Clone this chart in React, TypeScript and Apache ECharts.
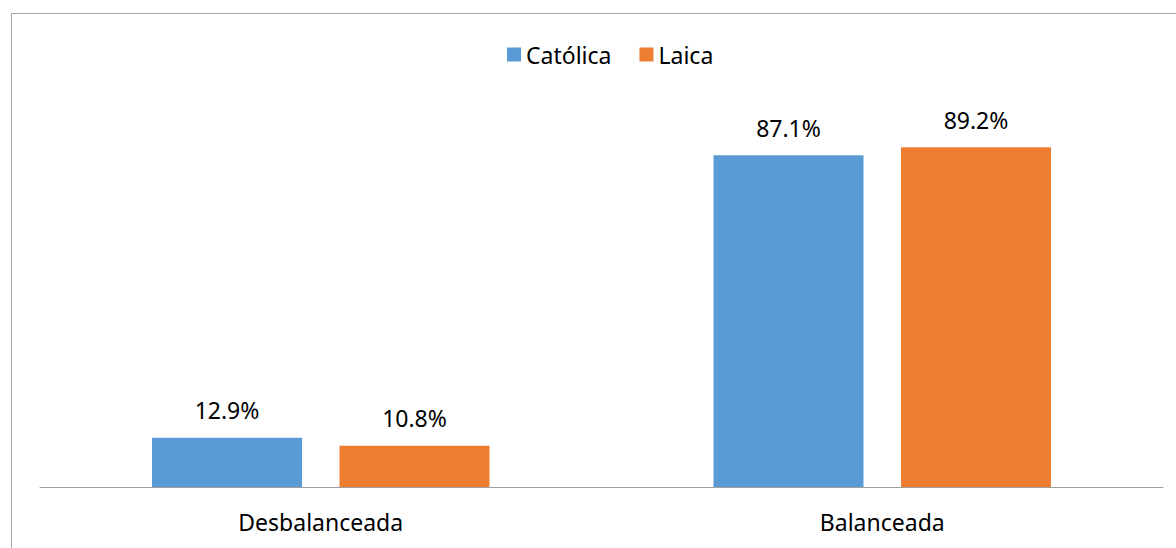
import React, { useEffect, useRef } from "react";
import * as echarts from "echarts";

const categories = ["Desbalanceada", "Balanceada"];
const catolica = [12.9, 87.1];
const laica = [10.8, 89.2];
const seriesNames = ["Católica", "Laica"];

const FONT = "'Noto Sans', 'Open Sans', sans-serif";
const FS = 23;

export default function App() {
  const ref = useRef<HTMLDivElement>(null);
  useEffect(() => {
    if (!ref.current) return;
    const chart = echarts.init(ref.current, null, { renderer: "svg" });
    const labelCfg = {
      show: true,
      position: "top",
      distance: 16,
      color: "#000",
      fontSize: FS,
      fontFamily: FONT,
      formatter: (p: any) => `${p.value.toFixed(1)}%`,
    };
    chart.setOption({
      animation: false,
      backgroundColor: "#fff",
      textStyle: { fontFamily: FONT },
      graphic: [
        {
          type: "rect",
          shape: { x: 11.5, y: 13.5, width: 1200, height: 600 },
          style: { fill: "none", stroke: "#a6a6a6", lineWidth: 1 },
          silent: true,
          z: -1,
        },
      ],
      legend: {
        left: 502,
        top: 38,
        icon: "rect",
        itemWidth: 14,
        itemHeight: 14,
        itemGap: 28,
        textStyle: { fontSize: FS, lineHeight: 23, color: "#000", fontFamily: FONT },
        data: seriesNames,
      },
      grid: { left: 40, right: 13, top: 106, bottom: 61, containLabel: false },
      xAxis: {
        type: "category",
        data: categories,
        axisLine: { lineStyle: { color: "#a0a0a0", width: 1 } },
        axisTick: { show: false },
        axisLabel: { color: "#000", fontSize: FS, fontFamily: FONT, margin: 23 },
      },
      yAxis: {
        type: "value",
        min: 0,
        max: 100,
        show: false,
        splitLine: { show: false },
      },
      series: [
        {
          name: seriesNames[0],
          type: "bar",
          data: catolica,
          barWidth: 150,
          barGap: "25%",
          itemStyle: { color: "#5B9BD5" },
          label: labelCfg,
        },
        {
          name: seriesNames[1],
          type: "bar",
          data: laica,
          barWidth: 150,
          barGap: "25%",
          itemStyle: { color: "#ED7D31" },
          label: labelCfg,
        },
      ],
    });
    return () => chart.dispose();
  }, []);
  return (
    <div
      ref={ref}
      style={{ position: "fixed", left: 0, top: 0, width: 1176, height: 548 }}
    />
  );
}
